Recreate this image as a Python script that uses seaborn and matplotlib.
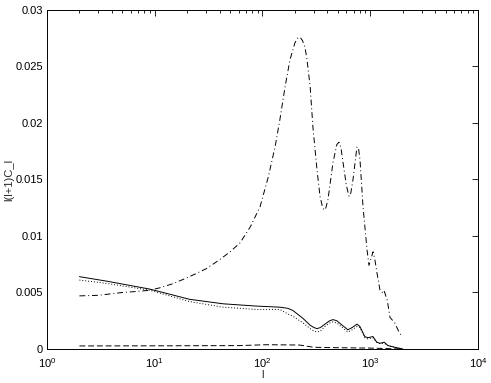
import seaborn as sns
import matplotlib.pyplot as plt
import numpy as np
from matplotlib.ticker import LogLocator, FixedLocator

sns.set_style("white")
plt.rcParams['font.family'] = ['Liberation Sans', 'DejaVu Sans']

# Werte
l_dd = [2, 3, 5, 7, 9, 11, 15, 21, 30, 40, 50, 62, 77, 95, 113, 131, 145, 162, 180,
        200, 212, 223, 235, 248, 259, 277, 294, 321, 342, 360, 372, 385, 405, 451,
        490, 513, 535, 559, 600, 635, 660, 692, 753, 780, 804, 857, 933, 973, 1010,
        1061, 1100, 1156, 1232, 1290, 1340, 1440, 1525, 1690, 1870, 2000]
c_dd = [0.0047, 0.00475, 0.0050, 0.0051, 0.0052, 0.0054, 0.0058, 0.0064, 0.0071,
        0.0079, 0.0086, 0.0094, 0.0108, 0.0126, 0.0152, 0.0179, 0.0203, 0.0232,
        0.0256, 0.0271, 0.0275, 0.0276, 0.0273, 0.0267, 0.0256, 0.0232, 0.0196,
        0.0158, 0.0135, 0.0126, 0.0123, 0.0124, 0.0132, 0.0165, 0.0181, 0.0183,
        0.0178, 0.0165, 0.0145, 0.0135, 0.0138, 0.0150, 0.0179, 0.0177, 0.0167,
        0.0126, 0.0088, 0.0074, 0.0079, 0.0086, 0.0080, 0.0067, 0.0052, 0.0050,
        0.0052, 0.0043, 0.0028, 0.0023, 0.0014, 0.0011]

l_solid = [2, 3.6, 9, 21, 43, 87, 145, 172, 192, 238, 277, 300, 321, 345, 380, 420,
           451, 490, 550, 620, 680, 753, 800, 840, 890, 950, 1060, 1150, 1230,
           1350, 1460, 1780, 2000]
c_solid = [0.0064, 0.0060, 0.0053, 0.0044, 0.0040, 0.0038, 0.0037, 0.0036, 0.0034,
           0.0027, 0.0021, 0.0019, 0.0018, 0.0019, 0.0022, 0.0025, 0.0026, 0.0025,
           0.0021, 0.0017, 0.0019, 0.0022, 0.0020, 0.0016, 0.0011, 0.0010, 0.0011,
           0.0006, 0.0005, 0.0006, 0.0003, 0.0001, 0.0]

l_dot = [2, 3.6, 9, 21, 43, 87, 145, 172, 192, 238, 277, 300, 321, 345, 380, 420,
         451, 490, 550, 620, 680, 753, 800, 840, 890, 950, 1060, 1150, 1230,
         1350, 1460, 1780, 2000]
c_dot = [0.0061, 0.0058, 0.0052, 0.0042, 0.0037, 0.0035, 0.0035, 0.0031, 0.0029,
         0.0023, 0.0018, 0.0016, 0.0015, 0.0016, 0.0020, 0.0023, 0.0024, 0.0023,
         0.0019, 0.0015, 0.0017, 0.0020, 0.0019, 0.0015, 0.0010, 0.0009, 0.0010,
         0.0006, 0.0005, 0.0005, 0.0003, 0.0001, 0.0]

l_dash = [2, 10, 60, 110, 220, 300, 450, 1000, 1500, 2000]
c_dash = [0.00027, 0.00028, 0.00030, 0.00038, 0.00035, 0.00015, 0.00012, 0.00008,
          0.00003, 0.0]

fig = plt.figure(figsize=(4.91, 3.83), dpi=100)
ax = fig.add_axes([0.0957, 0.0888, 0.8778, 0.8851])

lw = 0.7
sns.lineplot(x=l_solid, y=c_solid, ax=ax, color="black", lw=lw, linestyle="-")
sns.lineplot(x=l_dot, y=c_dot, ax=ax, color="black", lw=lw, linestyle=(0, (1, 2)))
sns.lineplot(x=l_dd, y=c_dd, ax=ax, color="black", lw=lw, linestyle=(0, (6, 3, 1, 3)))
sns.lineplot(x=l_dash, y=c_dash, ax=ax, color="black", lw=lw, linestyle=(0, (6, 3)))

ax.set_xscale("log")
ax.set_xlim(1, 1e4)
ax.set_ylim(0, 0.03)
ax.xaxis.set_major_locator(LogLocator(base=10, numticks=10))
ax.xaxis.set_minor_locator(LogLocator(base=10, subs=np.arange(2, 10), numticks=10))
yt = [0, 0.005, 0.01, 0.015, 0.02, 0.025, 0.03]
ax.yaxis.set_major_locator(FixedLocator(yt))
ax.set_yticklabels(["%g" % v for v in yt])

ax.tick_params(which="both", direction="in", top=True, right=True,
               labelsize=8, colors="black", width=0.6)
ax.tick_params(which="major", length=4)
ax.tick_params(axis="x", which="major", pad=5)
ax.tick_params(axis="y", which="major", pad=3)
ax.tick_params(which="minor", length=2)
for s in ax.spines.values():
    s.set_color("black")
    s.set_linewidth(0.7)

ax.set_xlabel("l", fontsize=8, labelpad=0)
ax.set_ylabel("l(l+1)C_l", fontsize=8, labelpad=1)

plt.savefig("out.png", dpi=100)
